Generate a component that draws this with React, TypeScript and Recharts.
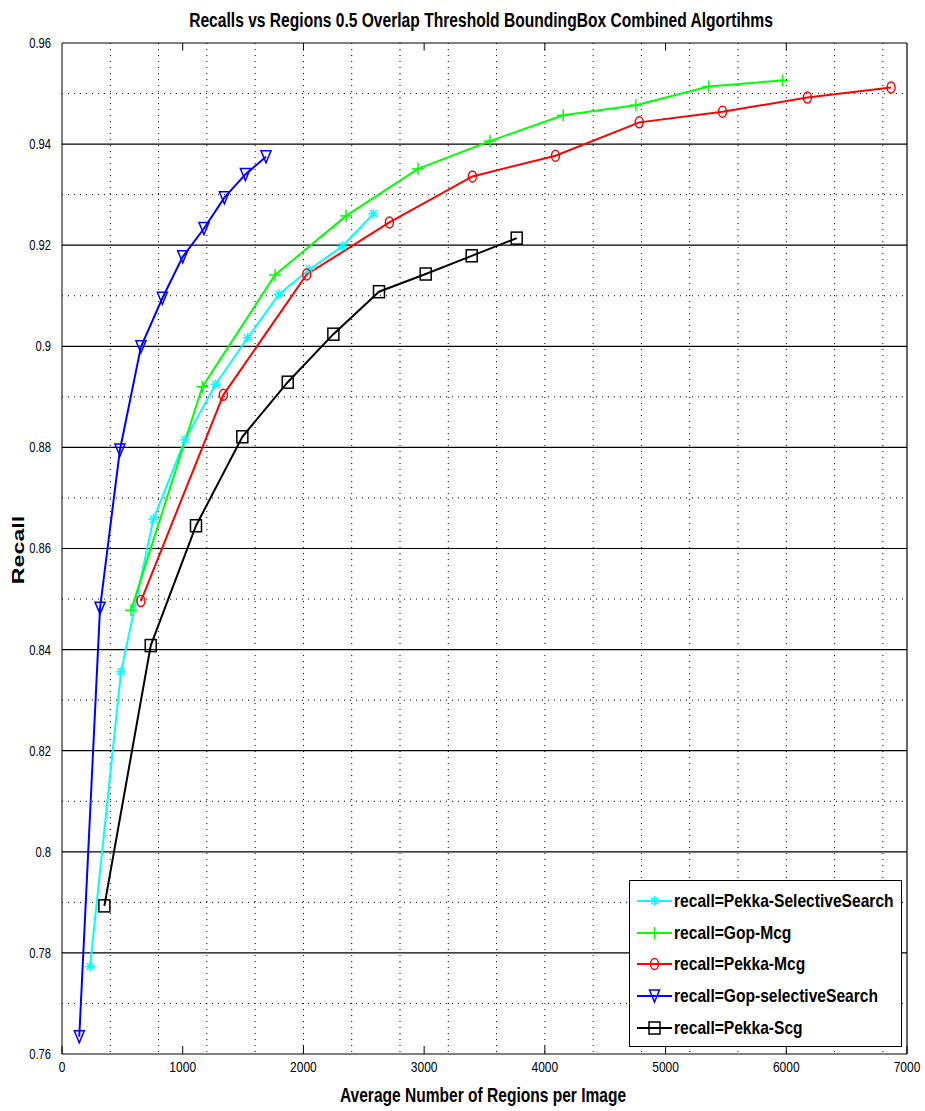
import React from "react";
import {
  LineChart,
  Line,
  XAxis,
  YAxis,
  CartesianGrid,
  ReferenceLine,
} from "recharts";

// values
const pekkaSsX = [232, 489, 757, 1019, 1273, 1538, 1798, 2049, 2323, 2579];
const pekkaSsY = [0.7773, 0.8356, 0.8658, 0.8815, 0.8925, 0.9017, 0.9103, 0.9152, 0.9198, 0.9262];

const gopMcgX = [572, 1163, 1765, 2353, 2949, 3546, 4152, 4754, 5357, 5969];
const gopMcgY = [0.8478, 0.892, 0.9141, 0.9258, 0.9351, 0.9406, 0.9457, 0.9477, 0.9514, 0.9526];

const pekkaMcgX = [654, 1337, 2027, 2712, 3400, 4088, 4782, 5472, 6175, 6868];
const pekkaMcgY = [0.8496, 0.8904, 0.9142, 0.9245, 0.9336, 0.9377, 0.9443, 0.9464, 0.9492, 0.9512];

const gopSsX = [143, 315, 480, 654, 831, 1000, 1176, 1345, 1519, 1690];
const gopSsY = [0.7634, 0.8482, 0.8795, 0.8999, 0.9095, 0.9177, 0.9233, 0.9294, 0.934, 0.9375];

const pekkaScgX = [351, 735, 1110, 1494, 1870, 2248, 2626, 3013, 3394, 3767];
const pekkaScgY = [0.7893, 0.8408, 0.8645, 0.8821, 0.8929, 0.9024, 0.9108, 0.9143, 0.9179, 0.9214];

const xTicks = [0, 1000, 2000, 3000, 4000, 5000, 6000, 7000];
const yTicks = [0.76, 0.78, 0.8, 0.82, 0.84, 0.86, 0.88, 0.9, 0.92, 0.94, 0.96];
const yMinor = [0.77, 0.79, 0.81, 0.83, 0.85, 0.87, 0.89, 0.91, 0.93, 0.95];
const xMinor = Array.from({ length: 34 }, (_, i) => (i + 1) * 200);

const toPoints = (xs: number[], ys: number[]) => xs.map((x, i) => ({ x, y: ys[i] }));

type Marker = "star" | "plus" | "circle" | "tri" | "square";

function markerShape(kind: Marker, cx: number, cy: number, color: string, key?: any) {
  const sw = 1.5;
  if (kind === "star") {
    return (
      <g key={key} stroke={color} strokeWidth={sw}>
        <line x1={cx - 5} y1={cy} x2={cx + 5} y2={cy} />
        <line x1={cx} y1={cy - 5} x2={cx} y2={cy + 5} />
        <line x1={cx - 3.5} y1={cy - 3.5} x2={cx + 3.5} y2={cy + 3.5} />
        <line x1={cx - 3.5} y1={cy + 3.5} x2={cx + 3.5} y2={cy - 3.5} />
      </g>
    );
  }
  if (kind === "plus") {
    return (
      <g key={key} stroke={color} strokeWidth={sw}>
        <line x1={cx - 6} y1={cy} x2={cx + 6} y2={cy} />
        <line x1={cx} y1={cy - 6} x2={cx} y2={cy + 6} />
      </g>
    );
  }
  if (kind === "circle") {
    return <ellipse key={key} cx={cx} cy={cy} rx={4} ry={5.5} fill="none" stroke={color} strokeWidth={sw} />;
  }
  if (kind === "tri") {
    return (
      <polygon
        key={key}
        points={`${cx - 5},${cy - 6} ${cx + 5},${cy - 6} ${cx},${cy + 6}`}
        fill="none"
        stroke={color}
        strokeWidth={sw}
      />
    );
  }
  return <rect key={key} x={cx - 5.5} y={cy - 6} width={11} height={12} fill="none" stroke={color} strokeWidth={sw} />;
}

const SERIES = [
  { name: "recall=Pekka-SelectiveSearch", xs: pekkaSsX, ys: pekkaSsY, color: "#00ffff", marker: "star" as Marker },
  { name: "recall=Gop-Mcg", xs: gopMcgX, ys: gopMcgY, color: "#00ff00", marker: "plus" as Marker },
  { name: "recall=Pekka-Mcg", xs: pekkaMcgX, ys: pekkaMcgY, color: "#ff0000", marker: "circle" as Marker },
  { name: "recall=Gop-selectiveSearch", xs: gopSsX, ys: gopSsY, color: "#0000ff", marker: "tri" as Marker },
  { name: "recall=Pekka-Scg", xs: pekkaScgX, ys: pekkaScgY, color: "#000000", marker: "square" as Marker },
];

const FONT = "'Liberation Sans', Arial, sans-serif";

// condensed tick labels (no narrow font installed, so squeeze horizontally)
function XTick(props: any) {
  const { x, y, payload } = props;
  return (
    <text
      transform={`translate(${x},${y}) scale(0.8,1)`}
      textAnchor="middle"
      dy="0.75em"
      fontSize={15}
      fontFamily={FONT}
      fill="#000"
    >
      {payload.value}
    </text>
  );
}

function YTick(props: any) {
  const { x, y, payload } = props;
  return (
    <text
      transform={`translate(${x},${y}) scale(0.8,1)`}
      textAnchor="end"
      dy="0.35em"
      fontSize={14}
      fontFamily={FONT}
      fill="#000"
    >
      {String(parseFloat(Number(payload.value).toFixed(2)))}
    </text>
  );
}

export default function App() {
  return (
    <div style={{ position: "absolute", left: 0, top: 0, width: 925, height: 1111, background: "#fff" }}>
      <div
        style={{
          position: "absolute",
          left: 0,
          width: 962,
          top: 9,
          textAlign: "center",
          fontFamily: FONT,
          fontWeight: "bold",
          fontSize: 20,
          transform: "scaleX(0.78)",
          transformOrigin: "481px 0",
          whiteSpace: "nowrap",
        }}
      >
        Recalls vs Regions 0.5 Overlap Threshold BoundingBox Combined Algortihms
      </div>
      <div
        style={{
          position: "absolute",
          left: 0,
          width: 966,
          top: 1083,
          textAlign: "center",
          fontFamily: FONT,
          fontWeight: "bold",
          fontSize: 21,
          transform: "scaleX(0.74)",
          transformOrigin: "483px 0",
          whiteSpace: "nowrap",
        }}
      >
        Average Number of Regions per Image
      </div>
      <div
        style={{
          position: "absolute",
          left: 19,
          top: 550,
          transform: "translate(-50%, -50%) rotate(-90deg) scaleX(1.45)",
          fontFamily: FONT,
          fontWeight: "bold",
          fontSize: 16,
          whiteSpace: "nowrap",
        }}
      >
        Recall
      </div>

      <LineChart width={925} height={1111} margin={{ top: 43, right: 18, bottom: 0, left: 0 }}>
        <CartesianGrid
          stroke="#000"
          strokeDasharray="1 5"
          horizontalValues={yMinor}
          verticalValues={xMinor}
        />
        {yTicks.slice(1).map((v) => (
          <ReferenceLine key={"h" + v} y={v} stroke="#000" strokeWidth={1.2} />
        ))}
        <ReferenceLine x={7000} stroke="#000" strokeWidth={1.2} />
        {xTicks.slice(1, -1).map((v) => (
          <ReferenceLine
            key={"t" + v}
            segment={[
              { x: v, y: 0.96 },
              { x: v, y: 0.9585 },
            ]}
            stroke="#000"
          />
        ))}
        <XAxis
          type="number"
          dataKey="x"
          domain={[0, 7000]}
          ticks={xTicks}
          allowDataOverflow
          height={57}
          stroke="#000"
          tickSize={-8}
          tickMargin={15}
          tick={<XTick />}
        />
        <YAxis
          type="number"
          dataKey="y"
          domain={[0.76, 0.96]}
          ticks={yTicks}
          allowDataOverflow
          width={62}
          stroke="#000"
          tickLine={false}
          tickMargin={5}
          tick={<YTick />}
        />
        {SERIES.map((s) => (
          <Line
            key={s.name}
            data={toPoints(s.xs, s.ys)}
            dataKey="y"
            name={s.name}
            stroke={s.color}
            strokeWidth={2}
            isAnimationActive={false}
            dot={(p: any) => markerShape(s.marker, p.cx, p.cy, s.color, p.index)}
            activeDot={false}
          />
        ))}
      </LineChart>

      <div
        style={{
          position: "absolute",
          left: 629,
          top: 880,
          width: 273,
          height: 167,
          border: "1px solid #000",
          background: "#fff",
          boxSizing: "border-box",
        }}
      >
        {SERIES.map((s, i) => (
          <div
            key={s.name}
            style={{
              position: "absolute",
              left: 0,
              top: 8 + i * 31.7,
              height: 24,
              display: "flex",
              alignItems: "center",
              whiteSpace: "nowrap",
            }}
          >
            <svg width={44} height={24} style={{ marginLeft: 6, flex: "none" }}>
              <line x1={1} y1={12} x2={36} y2={12} stroke={s.color} strokeWidth={2} />
              {markerShape(s.marker, 18.5, 12, s.color)}
            </svg>
            <span
              style={{
                display: "inline-block",
                fontFamily: FONT,
                fontWeight: "bold",
                fontSize: 19,
                color: "#000",
                marginLeft: -6,
                transform: "scaleX(0.82)",
                transformOrigin: "0 50%",
              }}
            >
              {s.name}
            </span>
          </div>
        ))}
      </div>
    </div>
  );
}
